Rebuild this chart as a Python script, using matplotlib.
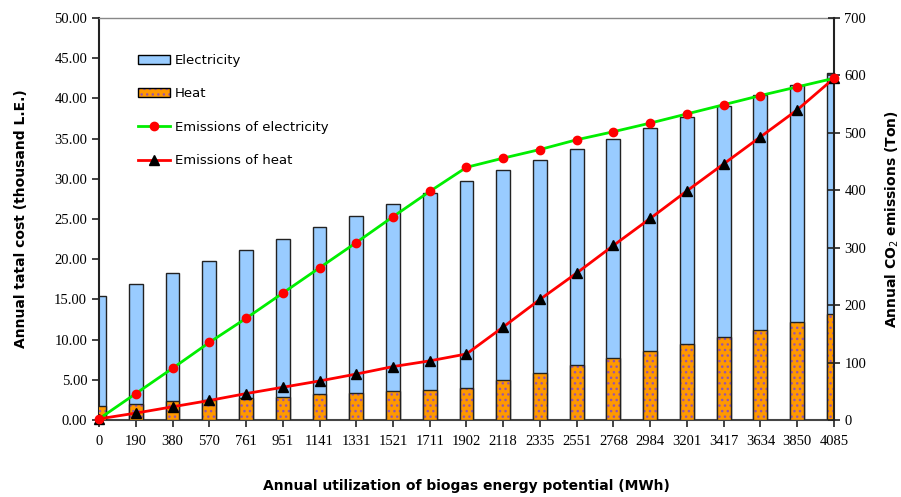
import matplotlib
matplotlib.use("Agg")
import matplotlib.pyplot as plt
from matplotlib.patches import Patch
from matplotlib.lines import Line2D
from matplotlib.legend_handler import HandlerTuple
import numpy as np

energia = [0, 190, 380, 570, 761, 951, 1141, 1331, 1521, 1711, 1902,
           2118, 2335, 2551, 2768, 2984, 3201, 3417, 3634, 3850, 4085]
costo_elec = [15.4, 16.95, 18.3, 19.8, 21.15, 22.5, 24.0, 25.35, 26.85, 28.2, 29.7,
              31.1, 32.4, 33.75, 35.0, 36.35, 37.7, 39.0, 40.4, 41.7, 43.2]
costo_calor = [1.8, 2.0, 2.35, 2.5, 2.75, 2.9, 3.2, 3.35, 3.6, 3.75, 3.95,
               5.0, 5.9, 6.8, 7.7, 8.6, 9.45, 10.35, 11.25, 12.2, 13.2]
emis_elec = [2, 46, 90, 135, 177, 221, 265, 309, 354, 398, 440,
             456, 471, 488, 502, 517, 533, 549, 565, 580, 595]
emis_calor = [2, 12, 23, 34, 46, 57, 68, 80, 93, 103, 115,
              162, 210, 256, 304, 351, 399, 446, 493, 540, 595]

serif = "Liberation Serif"
x = np.arange(len(energia))

fig = plt.figure(figsize=(9.01, 4.97), dpi=100)
ax = fig.add_axes([0.1099, 0.1549, 0.8157, 0.8089])

ancho = 0.38
ax.bar(x, costo_elec, width=ancho, color="#99CCFF", edgecolor="#222222", linewidth=1, zorder=2)
ax.bar(x, costo_calor, width=ancho, color="#FF9900", edgecolor="#9955AA", hatch="...",
       linewidth=0, zorder=3)
ax.bar(x, costo_calor, width=ancho, fill=False, edgecolor="#222222", linewidth=1, zorder=4)

ax.set_xlim(0, len(energia) - 1)
ax.set_ylim(0, 50)
ax.set_yticks(np.arange(0, 50.1, 5))
ax.set_yticklabels([f"{v:.2f}" for v in np.arange(0, 50.1, 5)], fontfamily=serif, fontsize=10.5)
ax.set_xticks(x)
ax.set_xticklabels([str(e) for e in energia], fontfamily=serif, fontsize=10.5)
ax.tick_params(axis="both", direction="out", length=5, width=1.2, color="#222222")
ax.tick_params(axis="x", pad=6)
ax.spines["top"].set_color("#888888")
ax.spines["top"].set_linewidth(1)
ax.spines["left"].set_linewidth(1.5)
ax.spines["left"].set_color("#222222")
ax.spines["bottom"].set_linewidth(1.5)
ax.spines["bottom"].set_color("#444444")
ax.spines["right"].set_visible(False)

ax2 = ax.twinx()
ax2.plot(x, emis_elec, color="#00EE00", linewidth=2, marker="o", markersize=6,
         markerfacecolor="#FF0000", markeredgecolor="#FF0000", clip_on=False, zorder=5)
ax2.plot(x, emis_calor, color="#FF0000", linewidth=2, marker="^", markersize=6.5,
         markerfacecolor="black", markeredgecolor="black", clip_on=False, zorder=4)
ax2.set_ylim(0, 700)
ax2.set_yticks(np.arange(0, 701, 100))
ax2.set_yticklabels([str(v) for v in range(0, 701, 100)], fontfamily=serif, fontsize=10.5)
ax2.tick_params(axis="y", direction="inout", length=8, width=1.2, color="#222222")
ax2.spines["right"].set_linewidth(1.5)
ax2.spines["right"].set_color("#222222")
for s in ["top", "left", "bottom"]:
    ax2.spines[s].set_visible(False)

ax.set_xlabel("Annual utilization of biogas energy potential (MWh)", fontsize=10,
              fontweight="bold", labelpad=22)
ax.set_ylabel("Annual tatal cost (thousand L.E.)", fontsize=10, fontweight="bold", labelpad=19)
ax2.set_ylabel("Annual CO$_2$ emissions (Ton)", fontsize=10, fontweight="bold", labelpad=12.5)

handles = [
    Patch(facecolor="#99CCFF", edgecolor="black"),
    (Patch(facecolor="#FF9900", edgecolor="#9955AA", hatch="...", linewidth=0),
     Patch(fill=False, edgecolor="black")),
    Line2D([0], [0], color="#00EE00", lw=2, marker="o", markersize=6,
           markerfacecolor="#FF0000", markeredgecolor="#FF0000"),
    Line2D([0], [0], color="#FF0000", lw=2, marker="^", markersize=6.5,
           markerfacecolor="black", markeredgecolor="black"),
]
etiquetas = ["Electricity", "Heat", "Emissions of electricity", "Emissions of heat"]
fig.legend(handles, etiquetas, loc="upper left", bbox_to_anchor=(138 / 901, 1 - 54 / 497),
           frameon=False, fontsize=9.5, handlelength=2.4, handletextpad=0.4,
           labelspacing=1.55, borderpad=0, borderaxespad=0,
           handler_map={tuple: HandlerTuple(ndivide=1, pad=0)})

fig.savefig("out.png", dpi=100)
